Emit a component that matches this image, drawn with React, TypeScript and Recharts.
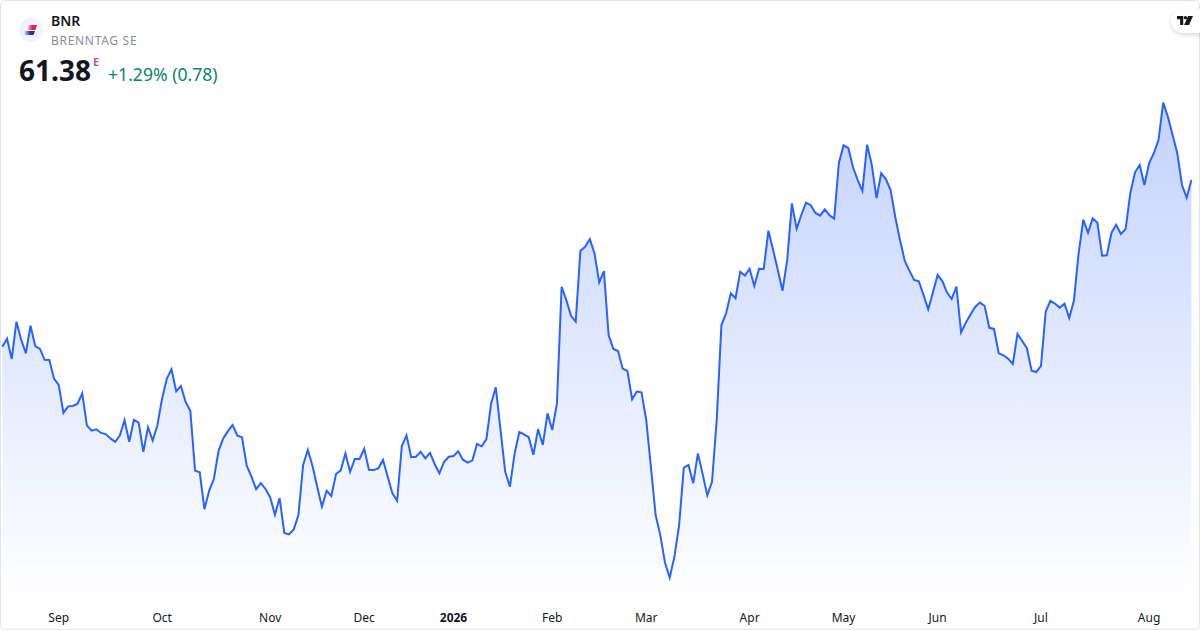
import React from 'react';
import { Area, AreaChart, XAxis, YAxis } from 'recharts';

// daily closes, oldest first
const closes = [
  54.04, 54.39, 53.5, 55.14, 54.36, 53.75, 54.96, 54.06, 53.94, 53.46, 53.45, 52.63, 52.36, 51.12, 51.41, 51.43,
  51.53, 51.98, 50.56, 50.34, 50.4, 50.24, 50.19, 50.0, 49.85, 50.12, 50.8, 49.85, 50.82, 50.69, 49.41, 50.49,
  49.9, 50.59, 51.76, 52.63, 53.04, 52.07, 52.31, 51.6, 51.22, 48.58, 48.51, 46.88, 47.69, 48.21, 49.44, 50.0,
  50.32, 50.59, 50.12, 50.05, 48.8, 48.31, 47.76, 48.03, 47.77, 47.4, 46.64, 47.37, 45.83, 45.77, 45.99, 46.62,
  48.83, 49.49, 48.78, 47.87, 46.99, 47.69, 47.46, 48.43, 48.59, 49.34, 48.52, 49.09, 49.09, 49.54, 48.62, 48.61,
  48.68, 49.05, 48.31, 47.58, 47.25, 49.66, 50.13, 49.17, 49.19, 49.41, 49.12, 49.36, 48.86, 48.46, 48.97, 49.19,
  49.22, 49.43, 49.06, 48.93, 49.02, 49.75, 49.65, 49.97, 51.54, 52.25, 50.37, 48.53, 47.87, 49.34, 50.28, 50.18,
  50.05, 49.28, 50.4, 49.71, 51.1, 50.37, 51.54, 56.68, 56.09, 55.4, 55.14, 58.27, 58.44, 58.78, 58.15, 56.87,
  57.37, 54.55, 53.94, 53.85, 53.07, 52.97, 51.72, 52.06, 52.03, 50.81, 48.75, 46.62, 45.74, 44.52, 43.86, 44.79,
  46.18, 48.71, 48.83, 48.02, 49.34, 48.43, 47.49, 48.09, 50.81, 54.99, 55.51, 56.39, 56.17, 57.34, 57.17, 57.47,
  56.71, 57.47, 57.46, 59.15, 58.3, 57.42, 56.5, 57.86, 60.35, 59.24, 59.84, 60.38, 60.27, 59.93, 59.81, 60.09,
  59.83, 59.68, 62.14, 62.91, 62.79, 61.94, 61.38, 60.9, 62.94, 62.04, 60.59, 61.68, 61.41, 60.94, 59.74, 58.74,
  57.83, 57.39, 56.98, 56.92, 56.32, 55.69, 56.43, 57.2, 56.93, 56.42, 56.14, 56.68, 54.67, 55.09, 55.46, 55.79,
  55.98, 55.84, 54.87, 54.82, 53.75, 53.66, 53.51, 53.28, 54.6, 54.29, 53.97, 52.98, 52.92, 53.19, 55.58, 56.06,
  55.93, 55.76, 55.93, 55.3, 56.06, 58.15, 59.63, 59.06, 59.69, 59.5, 58.05, 58.06, 59.06, 59.41, 59.0, 59.22,
  60.8, 61.72, 62.04, 61.16, 62.12, 62.56, 63.14, 64.79, 64.17, 63.36, 62.56, 61.16, 60.6, 61.38,
];

const tickLabels = ['Sep', 'Oct', 'Nov', 'Dec', '2026', 'Feb', 'Mar', 'Apr', 'May', 'Jun', 'Jul', 'Aug'];
const tickSessions = [12, 34, 57, 77, 96, 117, 137, 159, 179, 199, 221, 244];

const chartData = closes.map((close, session) => ({ session, close }));
const font = '"Noto Sans", sans-serif';

function MonthTick({ x, y, payload }: any) {
  const label = tickLabels[tickSessions.indexOf(payload.value)];
  return (
    <text x={x} y={y + 16} dy={0} textAnchor="middle" fontFamily={font} fontSize={12} fill="#131722" fontWeight={label === '2026' ? 700 : 400}>
      {label}
    </text>
  );
}

export default function App() {
  return (
    <div style={{ position: 'absolute', left: 0, top: 0, width: 1200, height: 630, background: '#fff', overflow: 'hidden', fontFamily: font }}>
      <AreaChart width={1200} height={630} data={chartData} margin={{ top: 0, right: 8.6, bottom: 0, left: 2.33 }}>
        <defs>
          <linearGradient id="priceFill" x1="0" y1="0" x2="0" y2="1">
            <stop offset="0%" stopColor="#2962FF" stopOpacity={0.28} />
            <stop offset="100%" stopColor="#2962FF" stopOpacity={0} />
          </linearGradient>
        </defs>
        <XAxis
          dataKey="session"
          type="number"
          domain={[0, closes.length - 1]}
          ticks={tickSessions}
          interval={0}
          height={30}
          axisLine={false}
          tickLine={false}
          tick={<MonthTick />}
          tickMargin={0}
        />
        <YAxis hide domain={[42.88, 69.31]} allowDataOverflow />
        <Area
          type="linear"
          dataKey="close"
          stroke="#2962FF"
          strokeWidth={2}
          fill="url(#priceFill)"
          fillOpacity={1}
          dot={false}
          activeDot={false}
          isAnimationActive={false}
        />
      </AreaChart>

      {/* card border */}
      <div style={{ position: 'absolute', inset: 0, border: '1px solid #e0e3eb', borderRadius: 6, boxSizing: 'border-box', pointerEvents: 'none' }} />

      {/* logo */}
      <svg width={24} height={24} style={{ position: 'absolute', left: 19, top: 18 }}>
        <defs>
          <linearGradient id="logoRed" x1="0" x2="1" y1="0" y2="0">
            <stop offset="0%" stopColor="#e0244f" stopOpacity={0.1} />
            <stop offset="55%" stopColor="#e0244f" />
          </linearGradient>
          <linearGradient id="logoBlue" x1="0" x2="1" y1="0" y2="0">
            <stop offset="0%" stopColor="#27328f" stopOpacity={0.1} />
            <stop offset="55%" stopColor="#27328f" />
          </linearGradient>
        </defs>
        <circle cx={12} cy={12} r={12} fill="#f0f3fa" />
        <path d="M8 12 L10 7 H18 L16.500 12 Z" fill="url(#logoRed)" />
        <path d="M5 13 H16 L14.500 17 H6 Z" fill="url(#logoBlue)" />
      </svg>

      <div style={{ position: 'absolute', left: 51, top: 11, fontSize: 14, lineHeight: '19px', fontWeight: 600, color: '#131722' }}>BNR</div>
      <div style={{ position: 'absolute', left: 51, top: 32, fontSize: 12, lineHeight: '17px', letterSpacing: 0.7, color: '#8a8d96' }}>BRENNTAG SE</div>
      <div style={{ position: 'absolute', left: 19, top: 51, fontSize: 28, lineHeight: '38px', fontWeight: 700, color: '#131722' }}>61.38</div>
      <div style={{ position: 'absolute', left: 93, top: 54, fontSize: 11, lineHeight: '15px', fontWeight: 600, color: '#ab47bc' }}>E</div>
      <div style={{ position: 'absolute', left: 108, top: 62, fontSize: 17.6, lineHeight: '24px', color: '#0b8470' }}>+1.29% (0.78)</div>

      {/* watermark */}
      <div style={{ position: 'absolute', left: 1171, top: 9, width: 40, height: 24, borderRadius: 12, background: '#fff', boxShadow: '0 2px 4px rgba(0,0,0,0.15)' }} />
      <svg width={16} height={9} viewBox="0 0 18 11" preserveAspectRatio="none" style={{ position: 'absolute', left: 1177, top: 16 }}>
        <path d="M0 0h7v11H3.500V4H0z M12.500 0H18l-4.500 11H8z" fill="#131722" />
        <circle cx={9.500} cy={2} r={2} fill="#131722" />
      </svg>
    </div>
  );
}
